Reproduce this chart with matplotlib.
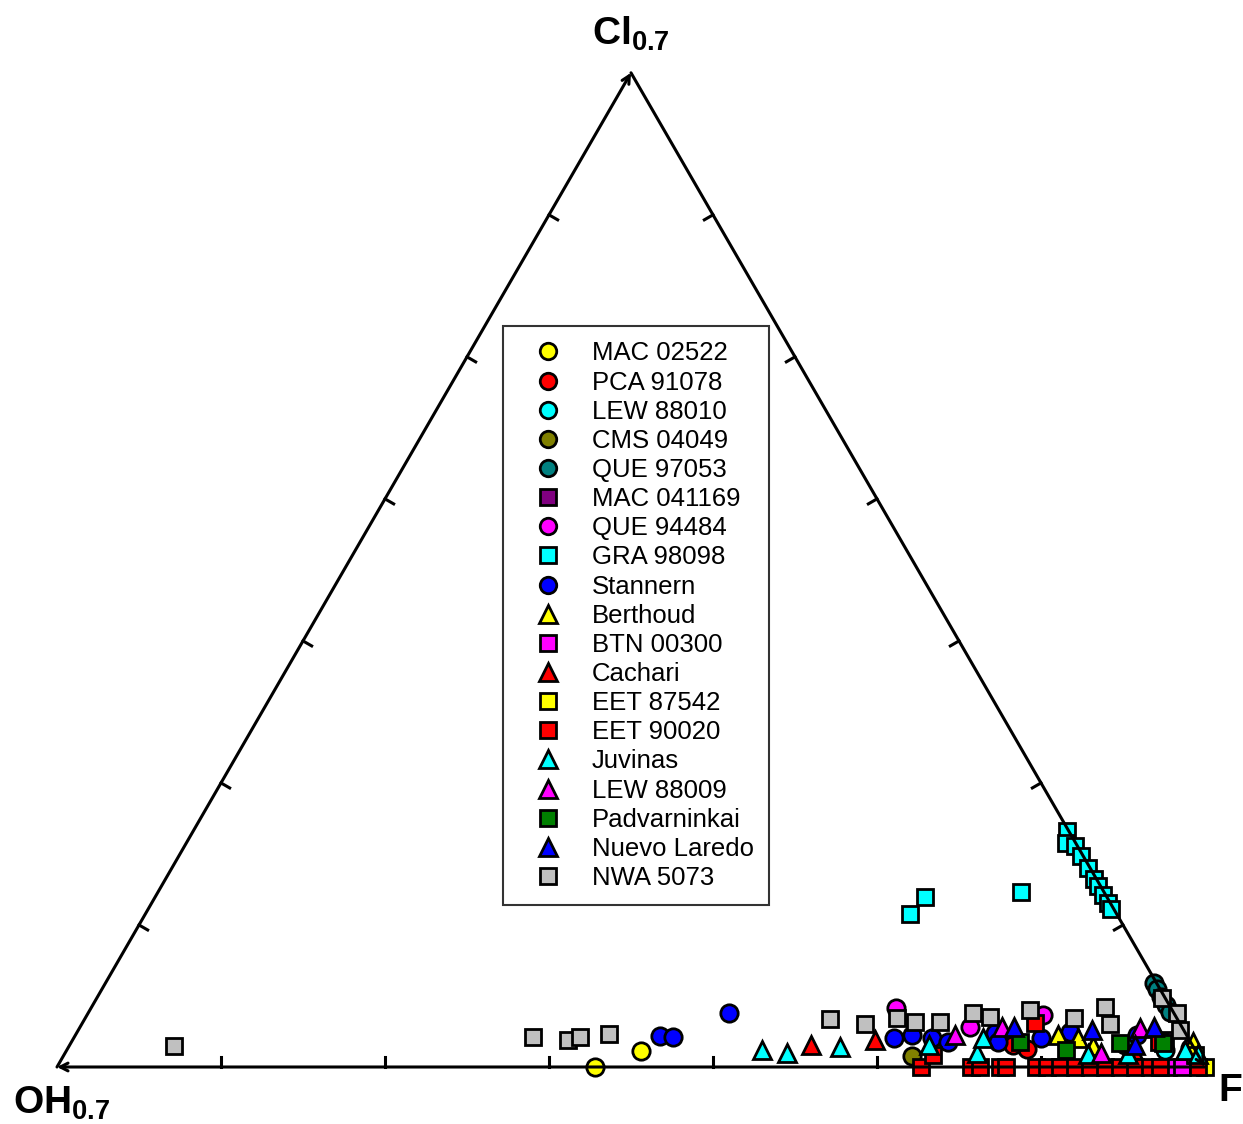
import numpy as np
import matplotlib
matplotlib.use('Agg')
import matplotlib.pyplot as plt

plt.rcParams['font.family'] = ['Liberation Sans', 'DejaVu Sans']
plt.rcParams['mathtext.fontset'] = 'custom'
plt.rcParams['mathtext.rm'] = 'Liberation Sans'
plt.rcParams['mathtext.bf'] = 'Liberation Sans:bold'

# Ternary data: fraction of F and Cl (OH = 1 - F - Cl), apex scale = 0.7
f_mac02522 = [0.469, 0.501]
cl_mac02522 = [0.000, 0.016]

f_pca91078 = [0.836, 0.822, 0.977]
cl_pca91078 = [0.018, 0.022, 0.019]

f_lew88010 = [0.919, 0.957]
cl_lew88010 = [0.022, 0.017]

f_cms04049 = [0.739]
cl_cms04049 = [0.011]

f_que97053 = [0.913, 0.919, 0.927, 0.935, 0.942]
cl_que97053 = [0.0845, 0.078, 0.070, 0.062, 0.055]

f_mac041169 = [0.952]
cl_mac041169 = [0.027]

f_que94484 = [0.701, 0.775, 0.833]
cl_que94484 = [0.059, 0.040, 0.052]

f_gra98098 = [0.761, 0.766, 0.776, 0.786, 0.798, 0.809, 0.816, 0.825, 0.833, 0.839,
              0.671, 0.666, 0.752]
cl_gra98098 = [0.237, 0.225, 0.222, 0.212, 0.200, 0.189, 0.182, 0.173, 0.165, 0.159,
               0.171, 0.154, 0.176]

f_stannern = [0.510, 0.522, 0.558, 0.715, 0.729, 0.748, 0.764, 0.800, 0.807, 0.843,
              0.865, 0.925]
cl_stannern = [0.031, 0.030, 0.054, 0.029, 0.032, 0.029, 0.025, 0.034, 0.025, 0.029,
               0.035, 0.032]

f_berthoud = [0.856, 0.875, 0.892, 0.977]
cl_berthoud = [0.032, 0.029, 0.021, 0.025]

f_btn00300 = [0.968, 0.980]
cl_btn00300 = [0.000, 0.000]

f_cachari = [0.646, 0.699, 0.929]
cl_cachari = [0.022, 0.027, 0.017]

f_eet87542 = [1.000, 0.985]
cl_eet87542 = [0.000, 0.012]

f_eet90020 = [0.753, 0.796, 0.804, 0.821, 0.827, 0.853, 0.862, 0.874, 0.887, 0.900,
              0.913, 0.926, 0.939, 0.952, 0.961, 0.994, 0.757, 0.830, 0.947]
cl_eet90020 = [0.000, 0.000, 0.000, 0.000, 0.000, 0.000, 0.000, 0.000, 0.000, 0.000,
               0.000, 0.000, 0.000, 0.000, 0.000, 0.000, 0.012, 0.044, 0.025]

f_juvinas = [0.606, 0.629, 0.672, 0.749, 0.794, 0.792, 0.892, 0.926, 0.974, 0.987]
cl_juvinas = [0.017, 0.014, 0.020, 0.022, 0.014, 0.029, 0.013, 0.013, 0.017, 0.013]

f_lew88009 = [0.766, 0.803, 0.924, 0.902]
cl_lew88009 = [0.032, 0.040, 0.039, 0.014]

f_padvarninkai = [0.826, 0.870, 0.914, 0.951]
cl_padvarninkai = [0.025, 0.017, 0.024, 0.024]

f_nuevo = [0.814, 0.883, 0.936, 0.928]
cl_nuevo = [0.040, 0.037, 0.040, 0.022]

f_nwa5073 = [0.091, 0.400, 0.432, 0.441, 0.464, 0.649, 0.682, 0.707, 0.725, 0.747,
             0.771, 0.788, 0.819, 0.861, 0.883, 0.896, 0.928, 0.949, 0.960]
cl_nwa5073 = [0.021, 0.030, 0.027, 0.030, 0.033, 0.048, 0.043, 0.049, 0.045, 0.045,
              0.054, 0.050, 0.057, 0.049, 0.060, 0.043, 0.069, 0.054, 0.037]

series = [
    ('MAC 02522', f_mac02522, cl_mac02522, 'o', '#FFFF00'),
    ('PCA 91078', f_pca91078, cl_pca91078, 'o', '#FF0000'),
    ('LEW 88010', f_lew88010, cl_lew88010, 'o', '#00FFFF'),
    ('CMS 04049', f_cms04049, cl_cms04049, 'o', '#808000'),
    ('QUE 97053', f_que97053, cl_que97053, 'o', '#008080'),
    ('MAC 041169', f_mac041169, cl_mac041169, 's', '#800080'),
    ('QUE 94484', f_que94484, cl_que94484, 'o', '#FF00FF'),
    ('GRA 98098', f_gra98098, cl_gra98098, 's', '#00FFFF'),
    ('Stannern', f_stannern, cl_stannern, 'o', '#0000FF'),
    ('Berthoud', f_berthoud, cl_berthoud, '^', '#FFFF00'),
    ('BTN 00300', f_btn00300, cl_btn00300, 's', '#FF00FF'),
    ('Cachari', f_cachari, cl_cachari, '^', '#FF0000'),
    ('EET 87542', f_eet87542, cl_eet87542, 's', '#FFFF00'),
    ('EET 90020', f_eet90020, cl_eet90020, 's', '#FF0000'),
    ('Juvinas', f_juvinas, cl_juvinas, '^', '#00FFFF'),
    ('LEW 88009', f_lew88009, cl_lew88009, '^', '#FF00FF'),
    ('Padvarninkai', f_padvarninkai, cl_padvarninkai, 's', '#008000'),
    ('Nuevo Laredo', f_nuevo, cl_nuevo, '^', '#0000FF'),
    ('NWA 5073', f_nwa5073, cl_nwa5073, 's', '#C0C0C0'),
]

h = np.sqrt(3) / 2


def to_xy(f, cl):
    f = np.asarray(f)
    cl = np.asarray(cl)
    return f + cl / 2, cl * h


fig = plt.figure(figsize=(12.43, 11.24), dpi=100)
ax = fig.add_axes([0, 0, 1, 1])
ax.set_xlim(-57 / 1148, 1186 / 1148)
ax.set_ylim(-57 / 1148, 1067 / 1148)
ax.set_aspect('equal')
ax.axis('off')

# triangle edges with open arrow heads at the vertices
oh, fv, clv = (0, 0), (1, 0), (0.5, h)
for start, end in [(oh, clv), (fv, oh), (clv, fv)]:
    ax.annotate('', xy=end, xytext=start,
                arrowprops=dict(arrowstyle='->,head_length=0.55,head_width=0.28',
                                lw=2.2, color='black', shrinkA=0, shrinkB=0))

# ticks every 0.1 on a 0-0.7 scale, perpendicular to edges, pointing inward
tl = 10 / 1148
for k in range(1, 7):
    t = k / 7
    ax.plot([t, t], [0, tl], color='black', lw=2.2)
    px, py = t / 2, t * h
    ax.plot([px, px + tl * h], [py, py - tl * 0.5], color='black', lw=2.2)
    px, py = 1 - t / 2, t * h
    ax.plot([px, px - tl * h], [py, py - tl * 0.5], color='black', lw=2.2)

for name, f, cl, mk, col in series:
    x, y = to_xy(f, cl)
    ms = 12.5 if mk == 'o' else (11.5 if mk == 's' else 13)
    ax.plot(x, y, linestyle='none', marker=mk, markersize=ms, markerfacecolor=col,
            markeredgecolor='black', markeredgewidth=2.0, clip_on=False, label=name)

ax.text(0.5, h + 0.017, r'$\mathbf{Cl_{0.7}}$', fontsize=28, ha='center', va='bottom')
ax.text(-0.038, -0.015, r'$\mathbf{OH_{0.7}}$', fontsize=28, ha='left', va='top')
ax.text(1.011, -0.005, r'$\mathbf{F}$', fontsize=28, ha='left', va='top')

leg = ax.legend(loc='upper left', bbox_to_anchor=(503 / 1243, 1 - 326 / 1124),
                fontsize=18.5, frameon=True, fancybox=False, edgecolor='black',
                handlelength=2.3, handletextpad=0.55, labelspacing=0.2,
                borderpad=0.6, borderaxespad=0, markerscale=0.95)
leg.get_frame().set_linewidth(1.5)

fig.savefig('out.png', dpi=100)
